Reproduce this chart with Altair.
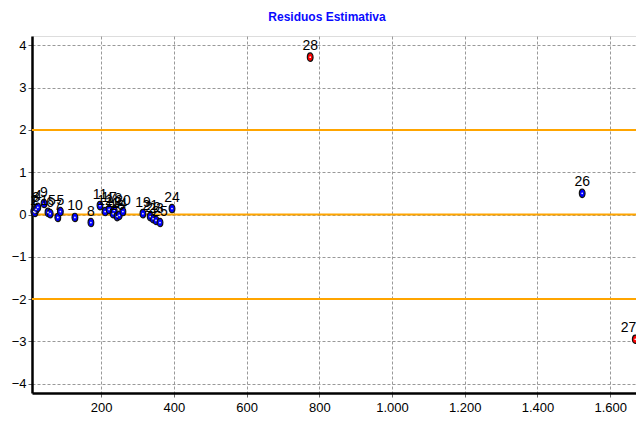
import altair as alt
import pandas as pd

labels = ["1", "2", "3", "4", "9", "15", "6", "7", "5", "10", "8", "11", "12", "17", "13", "18", "16", "14", "20",
          "19", "21", "22", "23", "25", "24", "26", "27", "28"]
xs = [15, 18, 21, 26, 43, 54, 60, 81, 88, 128, 172, 197, 211, 222, 233, 236, 244, 250, 260,
      315, 335, 343, 351, 362, 395, 1523, 1669, 775]
ys = [0.07, 0.05, 0.12, 0.17, 0.26, 0.05, 0.02, -0.07, 0.07, -0.07, -0.19, 0.21, 0.07, 0.12, 0.02, 0.10, -0.05, -0.02, 0.07,
      0.02, -0.05, -0.10, -0.14, -0.19, 0.14, 0.50, -2.95, 3.72]
kind = ["ok"] * 26 + ["out", "out"]
edge = [False] * 26 + [True, False]

ref_lines = [2, 0, -2]

df = pd.DataFrame({"label": labels, "x": xs, "y": ys, "kind": kind, "edge": edge})
rdf = pd.DataFrame({"y": ref_lines})

FONT = "Liberation Sans"
x_dom = [10, 1671]
y_dom = [-4.22, 4.22]

xscale = alt.Scale(domain=x_dom, nice=False, zero=False)
yscale = alt.Scale(domain=y_dom, nice=False, zero=False)

xaxis = alt.Axis(values=[200, 400, 600, 800, 1000, 1200, 1400, 1600], title=None,
                 labelExpr="replace(format(datum.value, ','), ',', '.')",
                 labelFont=FONT, labelFontSize=13, labelColor="black",
                 grid=True, gridDash=[3, 2], gridColor="#999", gridWidth=1,
                 domainColor="black", domainWidth=2.5, tickColor="#666", tickSize=4,
                 labelPadding=4)
yaxis = alt.Axis(values=[-4, -3, -2, -1, 0, 1, 2, 3, 4], title=None,
                 labelFont=FONT, labelFontSize=13, labelColor="black",
                 grid=True, gridDash=[3, 2], gridColor="#999", gridWidth=1,
                 domainColor="black", domainWidth=2.5, tickColor="#666", tickSize=4,
                 labelPadding=2)

ellipse = "M0,-1.25 A0.85,1.25 0 1,1 0,1.25 A0.85,1.25 0 1,1 0,-1.25 Z"

rules = alt.Chart(rdf).mark_rule(color="#FFA500", strokeWidth=2).encode(
    y=alt.Y("y:Q", scale=yscale, axis=yaxis)
)

pts = alt.Chart(df).mark_point(filled=True, shape=ellipse, size=45, stroke="#101010", strokeWidth=1.2, opacity=1).encode(
    x=alt.X("x:Q", scale=xscale, axis=xaxis),
    y=alt.Y("y:Q", scale=yscale, axis=yaxis),
    fill=alt.Fill("kind:N", scale=alt.Scale(domain=["ok", "out"], range=["#0000FF", "#FF0000"]), legend=None),
)

dots = alt.Chart(df).mark_point(filled=True, shape="circle", size=3, color="white", opacity=0.9).encode(
    x=alt.X("x:Q", scale=xscale),
    y=alt.Y("y:Q", scale=yscale),
)

txt = alt.Chart(df).transform_filter("!datum.edge").mark_text(font=FONT, fontSize=14, color="black", dy=-11).encode(
    x=alt.X("x:Q", scale=xscale),
    y=alt.Y("y:Q", scale=yscale),
    text="label:N",
)

txt_edge = alt.Chart(df).transform_filter("datum.edge").mark_text(
    font=FONT, fontSize=14, color="black", dy=-11, dx=1, align="right").encode(
    x=alt.X("x:Q", scale=xscale),
    y=alt.Y("y:Q", scale=yscale),
    text="label:N",
)

chart = alt.layer(rules, pts, dots, txt, txt_edge).properties(
    width=604, height=357,
    title=alt.Title("Residuos Estimativa", font=FONT, fontSize=12, fontWeight="bold",
                    color="#0A0AFF", anchor="middle", dx=-7, offset=12),
    padding={"left": 24, "top": 28, "right": 0, "bottom": 20},
    autosize=alt.AutoSizeParams(type="none"),
).configure_view(stroke="#555", strokeWidth=1.5).configure(background="white")

chart.save("out.html", embed_options={"renderer": "svg", "actions": False})
